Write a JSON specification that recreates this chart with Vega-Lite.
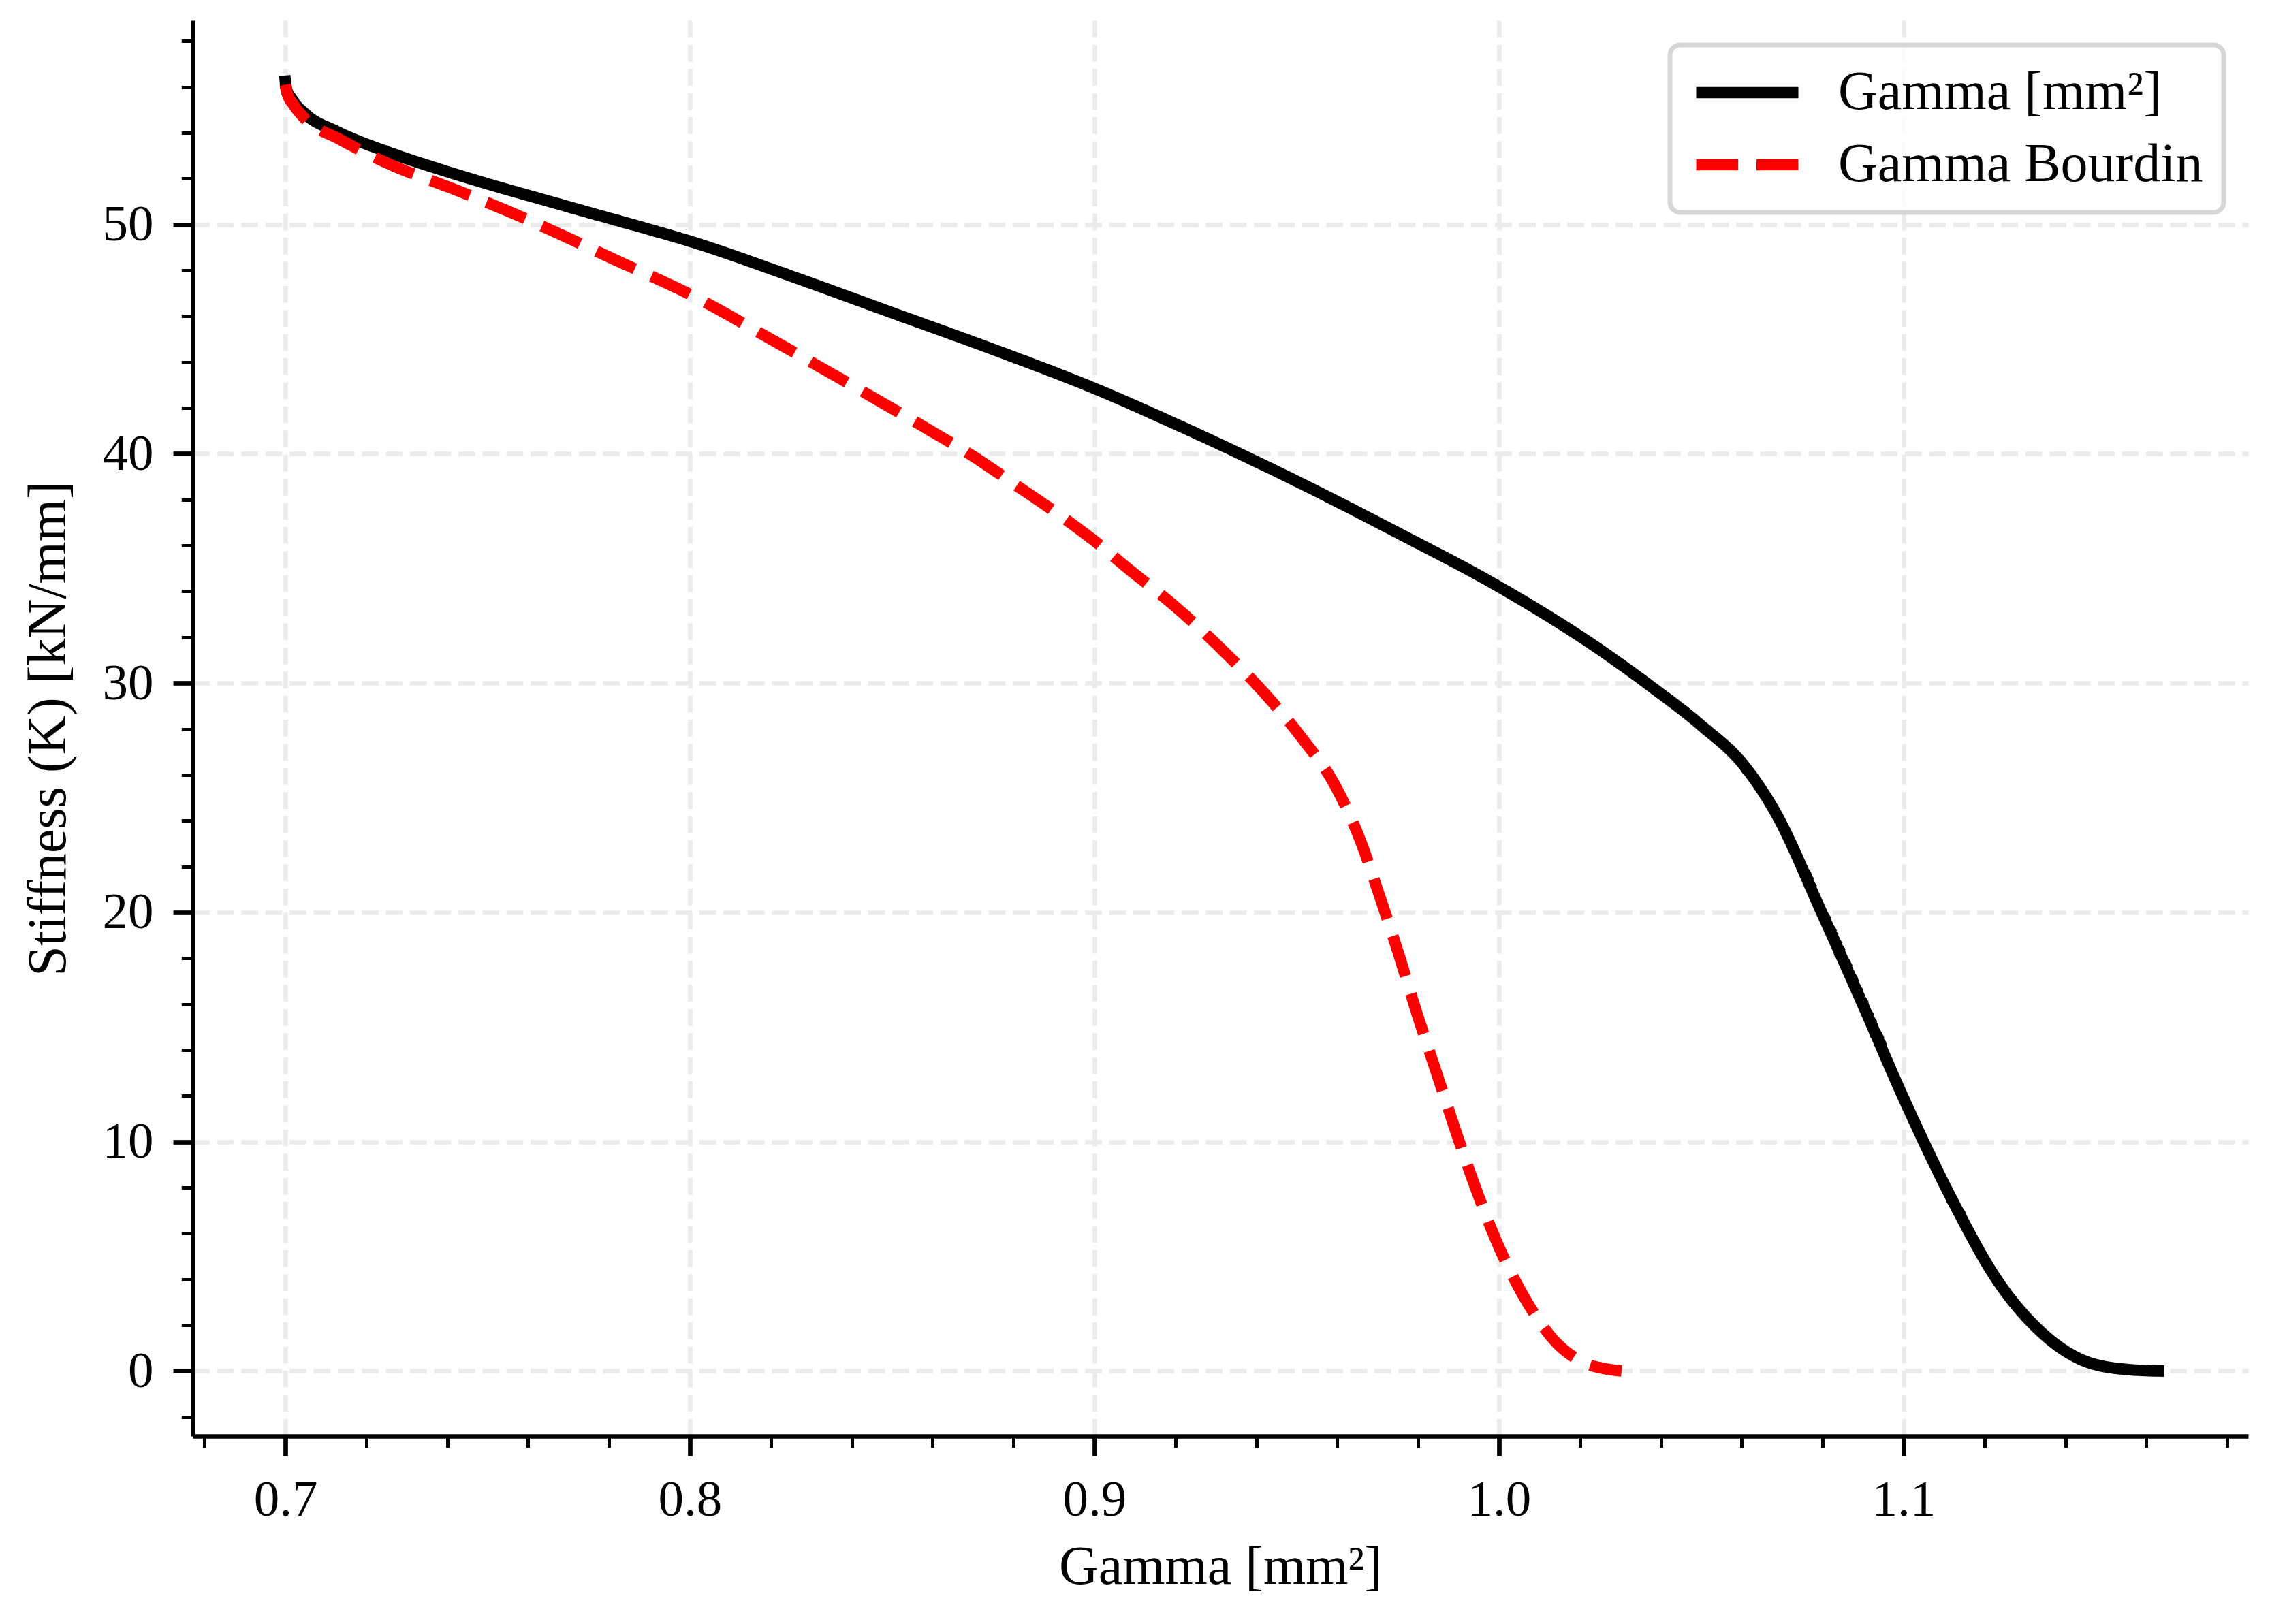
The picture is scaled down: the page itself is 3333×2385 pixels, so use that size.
{
  "$schema": "https://vega.github.io/schema/vega-lite/v6.json",
  "width": 3018,
  "height": 2079,
  "autosize": {"type": "none"},
  "padding": {"left": 283, "top": 30, "right": 32, "bottom": 276},
  "background": "white",
  "config": {
    "view": {"stroke": null},
    "font": "Liberation Serif"
  },
  "data": {
    "values": [
      {"g": 0.700, "k": 56.25, "series": "Gamma [mm²]"},
      {"g": 0.7003, "k": 55.9, "series": "Gamma [mm²]"},
      {"g": 0.7016, "k": 55.47, "series": "Gamma [mm²]"},
      {"g": 0.7051, "k": 54.8, "series": "Gamma [mm²]"},
      {"g": 0.7128, "k": 54.05, "series": "Gamma [mm²]"},
      {"g": 0.7255, "k": 53.15, "series": "Gamma [mm²]"},
      {"g": 0.7383, "k": 52.4, "series": "Gamma [mm²]"},
      {"g": 0.751, "k": 51.72, "series": "Gamma [mm²]"},
      {"g": 0.7638, "k": 51.08, "series": "Gamma [mm²]"},
      {"g": 0.7765, "k": 50.45, "series": "Gamma [mm²]"},
      {"g": 0.7893, "k": 49.82, "series": "Gamma [mm²]"},
      {"g": 0.800, "k": 49.27, "series": "Gamma [mm²]"},
      {"g": 0.825, "k": 47.75, "series": "Gamma [mm²]"},
      {"g": 0.850, "k": 46.15, "series": "Gamma [mm²]"},
      {"g": 0.875, "k": 44.55, "series": "Gamma [mm²]"},
      {"g": 0.900, "k": 42.85, "series": "Gamma [mm²]"},
      {"g": 0.925, "k": 40.9, "series": "Gamma [mm²]"},
      {"g": 0.950, "k": 38.8, "series": "Gamma [mm²]"},
      {"g": 0.975, "k": 36.55, "series": "Gamma [mm²]"},
      {"g": 1.000, "k": 34.2, "series": "Gamma [mm²]"},
      {"g": 1.025, "k": 31.45, "series": "Gamma [mm²]"},
      {"g": 1.0376, "k": 29.85, "series": "Gamma [mm²]"},
      {"g": 1.050, "k": 28.15, "series": "Gamma [mm²]"},
      {"g": 1.0606, "k": 26.4, "series": "Gamma [mm²]"},
      {"g": 1.0682, "k": 24.4, "series": "Gamma [mm²]"},
      {"g": 1.080, "k": 19.9, "series": "Gamma [mm²]"},
      {"g": 1.090, "k": 15.95, "series": "Gamma [mm²]"},
      {"g": 1.100, "k": 11.9, "series": "Gamma [mm²]"},
      {"g": 1.1125, "k": 7.3, "series": "Gamma [mm²]"},
      {"g": 1.123, "k": 4.0, "series": "Gamma [mm²]"},
      {"g": 1.134, "k": 1.7, "series": "Gamma [mm²]"},
      {"g": 1.1447, "k": 0.44, "series": "Gamma [mm²]"},
      {"g": 1.1555, "k": 0.06, "series": "Gamma [mm²]"},
      {"g": 1.163, "k": 0.0, "series": "Gamma [mm²]"},
      {"g": 0.700, "k": 56.1, "series": "Gamma Bourdin"},
      {"g": 0.7005, "k": 55.7, "series": "Gamma Bourdin"},
      {"g": 0.7019, "k": 55.25, "series": "Gamma Bourdin"},
      {"g": 0.7045, "k": 54.67, "series": "Gamma Bourdin"},
      {"g": 0.7134, "k": 53.72, "series": "Gamma Bourdin"},
      {"g": 0.7268, "k": 52.55, "series": "Gamma Bourdin"},
      {"g": 0.7408, "k": 51.6, "series": "Gamma Bourdin"},
      {"g": 0.7548, "k": 50.6, "series": "Gamma Bourdin"},
      {"g": 0.7682, "k": 49.55, "series": "Gamma Bourdin"},
      {"g": 0.7816, "k": 48.45, "series": "Gamma Bourdin"},
      {"g": 0.800, "k": 46.95, "series": "Gamma Bourdin"},
      {"g": 0.8215, "k": 44.85, "series": "Gamma Bourdin"},
      {"g": 0.8473, "k": 42.25, "series": "Gamma Bourdin"},
      {"g": 0.860, "k": 40.95, "series": "Gamma Bourdin"},
      {"g": 0.8695, "k": 39.95, "series": "Gamma Bourdin"},
      {"g": 0.880, "k": 38.7, "series": "Gamma Bourdin"},
      {"g": 0.890, "k": 37.5, "series": "Gamma Bourdin"},
      {"g": 0.900, "k": 36.2, "series": "Gamma Bourdin"},
      {"g": 0.9086, "k": 34.95, "series": "Gamma Bourdin"},
      {"g": 0.9202, "k": 33.3, "series": "Gamma Bourdin"},
      {"g": 0.9313, "k": 31.5, "series": "Gamma Bourdin"},
      {"g": 0.9418, "k": 29.6, "series": "Gamma Bourdin"},
      {"g": 0.9513, "k": 27.6, "series": "Gamma Bourdin"},
      {"g": 0.9596, "k": 25.5, "series": "Gamma Bourdin"},
      {"g": 0.9658, "k": 23.1, "series": "Gamma Bourdin"},
      {"g": 0.9707, "k": 20.6, "series": "Gamma Bourdin"},
      {"g": 0.9753, "k": 18.13, "series": "Gamma Bourdin"},
      {"g": 0.9797, "k": 15.6, "series": "Gamma Bourdin"},
      {"g": 0.9843, "k": 13.14, "series": "Gamma Bourdin"},
      {"g": 0.9889, "k": 10.67, "series": "Gamma Bourdin"},
      {"g": 0.9938, "k": 8.18, "series": "Gamma Bourdin"},
      {"g": 1.000, "k": 5.4, "series": "Gamma Bourdin"},
      {"g": 1.0057, "k": 3.38, "series": "Gamma Bourdin"},
      {"g": 1.0143, "k": 1.21, "series": "Gamma Bourdin"},
      {"g": 1.0205, "k": 0.4, "series": "Gamma Bourdin"},
      {"g": 1.0261, "k": 0.1, "series": "Gamma Bourdin"},
      {"g": 1.0303, "k": 0.0, "series": "Gamma Bourdin"}
    ]
  },
  "encoding": {
    "x": {
      "field": "g", "type": "quantitative",
      "scale": {"domain": [0.6771, 1.1852], "nice": false, "zero": false},
      "axis": {
        "title": "Gamma [mm²]",
        "values": [0.68, 0.70, 0.72, 0.74, 0.76, 0.78, 0.80, 0.82, 0.84, 0.86, 0.88, 0.90, 0.92, 0.94, 0.96, 0.98, 1.00, 1.02, 1.04, 1.06, 1.08, 1.10, 1.12, 1.14, 1.16, 1.18],
        "labelExpr": "abs(datum.value*10 - round(datum.value*10)) < 0.01 ? format(datum.value, '.1f') : ''",
        "tickSize": {"condition": {"test": "abs(datum.value*10 - round(datum.value*10)) < 0.01", "value": 29}, "value": 16.7},
        "tickWidth": {"condition": {"test": "abs(datum.value*10 - round(datum.value*10)) < 0.01", "value": 6.7}, "value": 5},
        "gridOpacity": {"condition": {"test": "abs(datum.value*10 - round(datum.value*10)) < 0.01", "value": 1}, "value": 0},
        "grid": true,
        "gridColor": "#ebebeb",
        "gridWidth": 6.7,
        "gridDash": [24.7, 10.7],
        "tickColor": "black",
        "domainColor": "black",
        "domainWidth": 6.7,
        "labelFontSize": 75,
        "labelColor": "black",
        "labelPadding": 28,
        "labelFlush": false,
        "labelOverlap": false,
        "titleFontSize": 80,
        "titleFontWeight": "normal",
        "titleColor": "black",
        "titlePadding": 22
      }
    },
    "y": {
      "field": "k", "type": "quantitative",
      "scale": {"domain": [-2.84, 58.9], "nice": false, "zero": false},
      "axis": {
        "title": "Stiffness (K) [kN/mm]",
        "values": [-2, 0, 2, 4, 6, 8, 10, 12, 14, 16, 18, 20, 22, 24, 26, 28, 30, 32, 34, 36, 38, 40, 42, 44, 46, 48, 50, 52, 54, 56, 58],
        "labelExpr": "datum.value % 10 == 0 ? format(datum.value, 'd') : ''",
        "tickSize": {"condition": {"test": "datum.value % 10 == 0", "value": 29}, "value": 16.7},
        "tickWidth": {"condition": {"test": "datum.value % 10 == 0", "value": 6.7}, "value": 5},
        "gridOpacity": {"condition": {"test": "datum.value % 10 == 0", "value": 1}, "value": 0},
        "grid": true,
        "gridColor": "#ebebeb",
        "gridWidth": 6.7,
        "gridDash": [24.7, 10.7],
        "tickColor": "black",
        "domainColor": "black",
        "domainWidth": 6.7,
        "labelFontSize": 75,
        "labelColor": "black",
        "labelPadding": 29,
        "labelFlush": false,
        "labelOverlap": false,
        "titleFontSize": 80,
        "titleFontWeight": "normal",
        "titleColor": "black",
        "titlePadding": 38
      }
    },
    "stroke": {
      "field": "series", "type": "nominal",
      "scale": {"domain": ["Gamma [mm²]", "Gamma Bourdin"], "range": ["black", "red"]},
      "legend": {
        "title": null,
        "orient": "top-right",
        "offset": 36,
        "symbolType": "stroke",
        "symbolSize": 22500,
        "symbolStrokeWidth": 16.7,
        "clipHeight": 80,
        "labelFontSize": 80,
        "labelColor": "black",
        "labelOffset": 50,
        "labelLimit": 0,
        "rowPadding": 26,
        "padding": 30,
        "strokeColor": "#d6d6d6",
        "fillColor": "rgba(255,255,255,0.8)",
        "cornerRadius": 15,
        "encode": {"legend": {"update": {"strokeWidth": {"value": 7}}}}
      }
    },
    "strokeDash": {
      "field": "series", "type": "nominal",
      "scale": {"domain": ["Gamma [mm²]", "Gamma Bourdin"], "range": [[1, 0], [61.7, 26.7]]},
      "legend": null
    }
  },
  "layer": [
    {
      "transform": [{"filter": "datum.series == 'Gamma [mm²]'"}],
      "mark": {"type": "line", "strokeWidth": 16.7, "interpolate": "monotone", "strokeCap": "square", "strokeJoin": "round"}
    },
    {
      "transform": [{"filter": "datum.series == 'Gamma Bourdin'"}],
      "mark": {"type": "line", "strokeWidth": 16.7, "interpolate": "monotone", "strokeCap": "butt", "strokeJoin": "round"}
    }
  ]
}
